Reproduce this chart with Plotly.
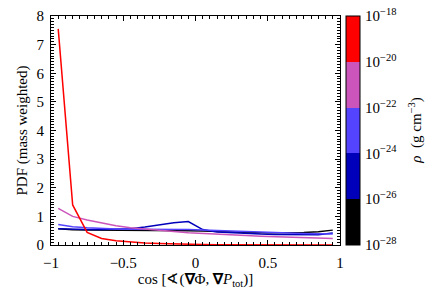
import plotly.graph_objects as go

cos_bins = [-0.95, -0.85, -0.75, -0.65, -0.55, -0.45, -0.35, -0.25, -0.15, -0.05,
            0.05, 0.15, 0.25, 0.35, 0.45, 0.55, 0.65, 0.75, 0.85, 0.95]

pdf_black = [0.57, 0.53, 0.52, 0.52, 0.52, 0.52, 0.52, 0.51, 0.51, 0.50,
             0.49, 0.47, 0.45, 0.44, 0.43, 0.43, 0.43, 0.44, 0.46, 0.52]
pdf_darkblue = [0.57, 0.55, 0.54, 0.54, 0.55, 0.57, 0.63, 0.70, 0.78, 0.82,
                0.54, 0.45, 0.42, 0.40, 0.38, 0.37, 0.36, 0.36, 0.36, 0.42]
pdf_violet = [0.72, 0.64, 0.60, 0.57, 0.56, 0.55, 0.55, 0.55, 0.55, 0.54,
              0.52, 0.50, 0.48, 0.46, 0.44, 0.42, 0.41, 0.40, 0.39, 0.38]
pdf_pink = [1.28, 1.00, 0.87, 0.76, 0.67, 0.60, 0.55, 0.50, 0.47, 0.43,
            0.40, 0.37, 0.35, 0.33, 0.31, 0.29, 0.27, 0.26, 0.25, 0.23]
pdf_red = [7.55, 1.40, 0.44, 0.23, 0.15, 0.10, 0.07, 0.05, 0.03, 0.02,
           0.015, 0.012, 0.01, 0.008, 0.006, 0.005, 0.004, 0.003, 0.003, 0.002]

series = [
    ("1e-28–1e-26", pdf_black, "#000000"),
    ("1e-26–1e-24", pdf_darkblue, "#0000BB"),
    ("1e-24–1e-22", pdf_violet, "#5544FF"),
    ("1e-22–1e-20", pdf_pink, "#CC55BB"),
    ("1e-20–1e-18", pdf_red, "#FF0000"),
]

cbar_exponents = [-28, -26, -24, -22, -20, -18]
cbar_ticktext = ["10<sup>−28</sup>", "10<sup>−26</sup>", "10<sup>−24</sup>",
                 "10<sup>−22</sup>", "10<sup>−20</sup>", "10<sup>−18</sup>"]
band_colors = ["#000000", "#0000BB", "#5544FF", "#CC55BB", "#FF0000"]

x_ticks = [-1, -0.5, 0, 0.5, 1]
x_ticktext = ["−1", "−0.5", "0", "0.5", "1"]

FONT = "Liberation Serif"

fig = go.Figure()
for name, ys, col in series:
    fig.add_trace(go.Scatter(x=cos_bins, y=ys, mode="lines", name=name,
                             line=dict(color=col, width=1.5), showlegend=False))

# discrete colorscale
cs = []
n = len(band_colors)
for i, c in enumerate(band_colors):
    cs.append([i / n, c])
    cs.append([(i + 1) / n, c])

fig.add_trace(go.Scatter(
    x=[None], y=[None], mode="markers", showlegend=False,
    marker=dict(
        color=[cbar_exponents[0]], cmin=cbar_exponents[0], cmax=cbar_exponents[-1],
        colorscale=cs, showscale=True,
        colorbar=dict(
            x=1.02, xanchor="left", xref="paper", xpad=0, ypad=0,
            y=0, yanchor="bottom", len=1, lenmode="fraction",
            thickness=14, outlinecolor="black", outlinewidth=1,
            tickvals=cbar_exponents, ticktext=cbar_ticktext,
            ticks="outside", ticklen=2, tickcolor="rgba(0,0,0,0)",
            ticklabelposition="outside",
            tickfont=dict(family=FONT, size=15, color="black"),
        ),
    ),
))

# invisible trace for mirrored axes (top/right)
fig.add_trace(go.Scatter(x=[None], y=[None], xaxis="x2", yaxis="y2",
                         showlegend=False, hoverinfo="skip"))

tick_common = dict(ticks="inside", ticklen=5, tickcolor="black", tickwidth=1)
minor_x = dict(dtick=0.05, ticks="inside", ticklen=3, tickcolor="black", tickwidth=0.8)
minor_y = dict(dtick=0.1, ticks="inside", ticklen=3, tickcolor="black", tickwidth=0.8)

fig.update_layout(
    xaxis=dict(
        range=[-1, 1], tickvals=x_ticks, ticktext=x_ticktext,
        showgrid=False, zeroline=False, showline=True, linecolor="black", linewidth=1,
        mirror=True, minor=minor_x, **tick_common, ticklabelstandoff=4,
        tickfont=dict(family=FONT, size=15, color="black"),
        title=dict(text="cos [∢(<b>∇</b>Φ, <b>∇</b><i>P</i><sub>tot</sub>)]",
                   font=dict(family=FONT, size=15, color="black"), standoff=2),
    ),
    yaxis=dict(
        range=[0, 8], dtick=1,
        showgrid=False, zeroline=False, showline=True, linecolor="black", linewidth=1,
        mirror=True, minor=minor_y, **tick_common, ticklabelstandoff=3,
        tickfont=dict(family=FONT, size=15, color="black"),
        title=dict(text="PDF (mass weighted)",
                   font=dict(family=FONT, size=15, color="black"), standoff=5),
    ),
    xaxis2=dict(range=[-1, 1], tickvals=x_ticks, overlaying="x", side="top",
                showticklabels=False, showgrid=False, zeroline=False,
                minor=minor_x, **tick_common),
    yaxis2=dict(range=[0, 8], dtick=1, overlaying="y", side="right",
                showticklabels=False, showgrid=False, zeroline=False,
                minor=minor_y, **tick_common),
    annotations=[dict(
        text="<i>ρ</i>  (g cm<sup>−3</sup>)", textangle=-90,
        xref="paper", yref="paper", x=1.26, y=0.5,
        xanchor="center", yanchor="middle", showarrow=False,
        font=dict(family=FONT, size=15, color="black"),
    )],
    width=436, height=305,
    margin=dict(l=51, r=96, t=16, b=60, autoexpand=False),
    plot_bgcolor="white", paper_bgcolor="white",
    font=dict(family=FONT, size=14, color="black"),
)

fig.write_html("out.html", config={"displayModeBar": False},
               post_script="document.body.style.margin='0';document.body.style.padding='0';document.body.style.overflow='hidden';")
